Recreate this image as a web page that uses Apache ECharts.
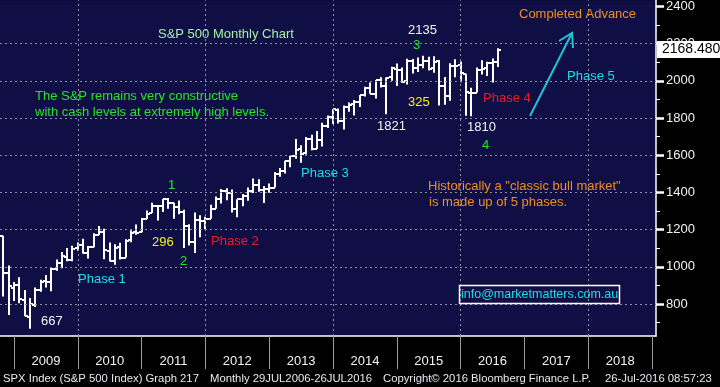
<!DOCTYPE html>
<html>
<head>
<meta charset="utf-8">
<script src="https://cdn.jsdelivr.net/npm/echarts@6/dist/echarts.min.js"></script>
<style>
html,body{margin:0;padding:0;background:#000;}
#c{width:720px;height:387px;}
</style>
</head>
<body>
<div id="c"></div>
<script>
// ---- data (monthly OHLC, S&P 500) ----
const months = ['2008-09','2008-10','2008-11','2008-12',
'2009-01','2009-02','2009-03','2009-04','2009-05','2009-06','2009-07','2009-08','2009-09','2009-10','2009-11','2009-12',
'2010-01','2010-02','2010-03','2010-04','2010-05','2010-06','2010-07','2010-08','2010-09','2010-10','2010-11','2010-12',
'2011-01','2011-02','2011-03','2011-04','2011-05','2011-06','2011-07','2011-08','2011-09','2011-10','2011-11','2011-12',
'2012-01','2012-02','2012-03','2012-04','2012-05','2012-06','2012-07','2012-08','2012-09','2012-10','2012-11','2012-12',
'2013-01','2013-02','2013-03','2013-04','2013-05','2013-06','2013-07','2013-08','2013-09','2013-10','2013-11','2013-12',
'2014-01','2014-02','2014-03','2014-04','2014-05','2014-06','2014-07','2014-08','2014-09','2014-10','2014-11','2014-12',
'2015-01','2015-02','2015-03','2015-04','2015-05','2015-06','2015-07','2015-08','2015-09','2015-10','2015-11','2015-12',
'2016-01','2016-02','2016-03','2016-04','2016-05','2016-06','2016-07'];
const opens = [1287.8,1164.2,968.7,888.6,
903.0,823.1,729.6,793.6,872.7,923.3,920.8,990.2,1019.5,1054.9,1036.2,1098.9,
1116.6,1073.9,1105.4,1171.2,1188.6,1087.3,1031.1,1107.5,1049.7,1143.5,1185.7,1186.6,
1257.6,1289.1,1328.6,1329.5,1365.2,1345.2,1320.6,1292.6,1219.1,1131.2,1251.0,1246.9,
1258.9,1312.5,1365.9,1408.5,1397.9,1309.9,1362.3,1379.3,1406.5,1440.9,1412.2,1416.2,
1426.2,1498.1,1514.7,1569.2,1597.6,1631.7,1609.8,1689.4,1636.0,1682.4,1758.7,1806.6,
1845.9,1782.7,1857.7,1874.0,1884.4,1923.9,1962.3,1929.8,2004.1,1971.4,2018.2,2065.8,
2058.9,1996.7,2105.2,2067.6,2087.4,2108.6,2067.0,2104.5,1970.1,1919.7,2080.8,2082.9,
2038.2,1936.9,1937.1,2056.6,2067.2,2093.9,2099.3];
const highs = [1303.0,1167.0,1007.5,918.9,
943.9,875.0,833.0,888.7,930.2,956.2,996.7,1039.5,1080.2,1101.4,1113.7,1130.4,
1150.5,1112.4,1180.7,1219.8,1205.1,1131.2,1121.0,1129.2,1148.7,1196.1,1227.1,1262.6,
1302.7,1344.1,1332.3,1364.6,1370.6,1345.2,1356.5,1307.4,1229.3,1292.7,1277.6,1269.4,
1333.5,1378.0,1419.2,1422.4,1415.3,1363.5,1391.7,1426.7,1474.5,1471.0,1434.3,1448.0,
1509.9,1530.9,1570.3,1597.6,1687.2,1654.2,1698.8,1709.7,1729.9,1775.2,1813.6,1849.4,
1850.8,1867.9,1884.0,1897.3,1924.0,1968.2,1991.4,2005.0,2019.3,2018.2,2075.8,2093.6,
2072.4,2119.6,2117.5,2125.9,2134.7,2129.9,2132.8,2112.7,2020.9,2094.3,2116.5,2104.3,
2038.2,1963.0,2072.2,2111.1,2103.5,2120.6,2175.6];
const lows = [1133.5,839.8,741.0,815.7,
804.3,734.5,666.8,783.3,866.1,888.9,869.3,978.5,992.0,1029.4,1029.4,1085.9,
1071.6,1044.5,1105.4,1170.7,1040.8,1028.3,1010.9,1039.7,1049.7,1131.9,1173.0,1186.6,
1257.6,1289.1,1249.1,1294.7,1311.8,1258.1,1282.9,1101.5,1114.2,1074.8,1158.7,1202.4,
1258.9,1312.5,1340.0,1357.4,1292.0,1266.7,1325.4,1354.7,1396.6,1403.3,1343.4,1398.1,
1426.2,1485.0,1501.5,1536.0,1581.3,1560.3,1604.6,1627.5,1633.4,1646.5,1746.2,1768.0,
1770.5,1737.9,1834.4,1814.4,1859.8,1916.0,1930.7,1904.8,1964.0,1820.7,2001.0,1972.6,
1988.1,1980.9,2039.7,2048.4,2067.9,2056.3,2044.0,1867.0,1871.9,1893.7,2019.4,1993.3,
1812.3,1810.1,1937.1,2033.8,2025.9,1991.7,2074.0];
const closes = [1166.4,968.8,896.2,903.3,
825.9,735.1,797.9,872.8,919.1,919.3,987.5,1020.6,1057.1,1036.2,1095.6,1115.1,
1073.9,1104.5,1169.4,1186.7,1089.4,1030.7,1101.6,1049.3,1141.2,1183.3,1180.6,1257.6,
1286.1,1327.2,1325.8,1363.6,1345.2,1320.6,1292.3,1218.9,1131.4,1253.3,1247.0,1257.6,
1312.4,1365.7,1408.5,1397.9,1310.3,1362.2,1379.3,1406.6,1440.7,1412.2,1416.2,1426.2,
1498.1,1514.7,1569.2,1597.6,1630.7,1606.3,1685.7,1633.0,1681.6,1756.5,1805.8,1848.4,
1782.6,1859.5,1872.3,1884.0,1923.6,1960.2,1930.7,2003.4,1972.3,2018.1,2067.6,2058.9,
1995.0,2104.5,2067.9,2085.5,2107.4,2063.1,2103.8,1972.2,1920.0,2079.4,2080.4,2043.9,
1940.2,1932.2,2059.7,2065.3,2097.0,2098.9,2168.48];
const years = ['2009','2010','2011','2012','2013','2014','2015','2016','2017','2018'];
const yTickLabels = [800,1000,1200,1400,1600,1800,2000,2200,2400];
const yMinorTicks = [700,900,1100,1300,1500,1700,1900,2100,2300];
const hGridValues = [800,1000,1200,1400,1600,1800,2000,2200];
const vGridYears = ['2010','2012','2014','2016','2018'];
const lastClose = 2168.48;

// month index: 0 = start of Jan 2009; a monthly bar sits at the end of its month
const monthEnd = m => { const p = m.split('-').map(Number); return (p[0]-2009)*12 + p[1]; };
const yearStart = y => (Number(y)-2009)*12;
const rows = months.map((m,i)=>[monthEnd(m), opens[i], highs[i], lows[i], closes[i]]);
const yearBounds = years.map(yearStart).concat([yearStart(years[years.length-1])+12]);
const yearMids = years.map(y=>yearStart(y)+6);

const FONT = '"Liberation Sans", Arial, sans-serif';
const chart = echarts.init(document.getElementById('c'), null, {renderer:'canvas'});

function txt(text, x, y, color, size){
  return {type:'text', z:100, style:{text:text, x:x, y:y, fill:color,
    font: (size||13)+'px '+FONT, align:'left', verticalAlign:'middle',
    textAlign:'left', textVerticalAlign:'middle'}};
}
const C_GREEN='#26e426', C_YEL='#f2ef22', C_CYAN='#1fdde6', C_RED='#ee1c24', C_ORG='#f0901e', C_WHITE='#f4f4f4';
const annotations = [
  txt('S&P 500 Monthly Chart',158,34,'#a6eea6'),
  txt('The S&P remains very constructive',35,96,C_GREEN),
  txt('with cash levels at extremely high levels.',35,112,C_GREEN),
  txt('1',168,185,C_GREEN),
  txt('296',152,242,C_YEL),
  txt('2',180,261,C_GREEN),
  txt('Phase 1',78,279,C_CYAN),
  txt('667',41,321,C_WHITE),
  txt('Phase 2',211,241,C_RED),
  txt('Phase 3',301,173,C_CYAN),
  txt('1821',377,126,C_WHITE),
  txt('325',408,102,C_YEL),
  txt('2135',408,30,C_WHITE),
  txt('3',413,45,C_GREEN),
  txt('1810',467,127,C_WHITE),
  txt('4',482,145,C_GREEN),
  txt('Phase 4',483,98,C_RED),
  txt('Phase 5',567,76,C_CYAN),
  txt('Completed Advance',519,14,C_ORG),
  txt('Historically a "classic bull market"',428,186,C_ORG),
  txt('is made up of 5 phases.',429,202,C_ORG),
  {type:'rect', z:100, shape:{x:459.5,y:285.5,width:160,height:18}, style:{fill:'none', stroke:'#ffffff', lineWidth:1.5}},
  txt('info@marketmatters.com.au',461,294.5,C_CYAN,12.5),
  {type:'line', z:100, shape:{x1:530,y1:116,x2:572,y2:33}, style:{stroke:'#22c4d2', lineWidth:2}},
  {type:'polyline', z:100, shape:{points:[[559,41],[572,33],[573,48]]}, style:{stroke:'#22c4d2', lineWidth:2, fill:'none'}},
  txt('SPX Index (S&P 500 Index) Graph 217',3,379,'#e8e8f0',11.3),
  txt('Monthly 29JUL2006-26JUL2016',210,379,'#e8e8f0',11.3),
  txt('Copyright\u00a9 2016 Bloomberg Finance L.P.',383,379,'#e8e8f0',11.3),
  txt('26-Jul-2016 08:57:23',605,379,'#e8e8f0',11.3)
];

const yMin = 628, yMax = 2434;
const gridLineData = hGridValues.map(v=>({yAxis:v})).concat(vGridYears.map(y=>({xAxis:yearStart(y)})));

const option = {
  backgroundColor:'#000000',
  animation:false,
  grid:{left:0, right:64, top:0, bottom:51, show:true, backgroundColor:'#100f45', borderWidth:0},
  xAxis:{type:'value', min:-2.633, max:120.74,
    axisLine:{show:true, onZero:false, lineStyle:{color:'#ffffff', width:1.5}},
    axisTick:{show:true, customValues:yearBounds, length:33, lineStyle:{color:'#9c9c9c', width:1}},
    axisLabel:{show:true, customValues:yearMids, margin:19, color:'#f2f2f2', fontSize:13, fontFamily:FONT,
      formatter: v => years[Math.round((v-6)/12)] || ''},
    splitLine:{show:false}},
  yAxis:[
    {type:'value', position:'right', min:yMin, max:yMax,
      axisLine:{show:true, onZero:false, lineStyle:{color:'#ffffff', width:1.5}},
      axisTick:{show:true, customValues:yTickLabels, length:8, lineStyle:{color:'#ffffff', width:2.5}},
      axisLabel:{show:true, customValues:yTickLabels, margin:10, color:'#f2f2f2', fontSize:13, fontFamily:FONT,
        formatter: v => String(v)},
      splitLine:{show:false}},
    {type:'value', position:'right', min:yMin, max:yMax,
      axisLine:{show:false, onZero:false},
      axisTick:{show:true, customValues:yMinorTicks, length:4, lineStyle:{color:'#ffffff', width:1}},
      axisLabel:{show:false}, splitLine:{show:false}}
  ],
  series:[
    {type:'line', data:rows.map(r=>[r[0], r[4]]), showSymbol:false, silent:true,
      lineStyle:{width:0, opacity:0}, z:1,
      markLine:{silent:true, symbol:['none','none'], animation:false,
        label:{show:false},
        lineStyle:{type:[2,3], color:'#8e8e9e', width:1},
        data: gridLineData}},
    {type:'custom', data:rows, clip:true, z:3,
      encode:{x:0, y:[1,2,3,4]},
      renderItem:(params, api)=>{
        const x = api.value(0);
        const o = api.coord([x, api.value(1)]);
        const h = api.coord([x, api.value(2)]);
        const l = api.coord([x, api.value(3)]);
        const c = api.coord([x, api.value(4)]);
        const px = Math.round(h[0]);
        const st = {stroke:'#ffffff', lineWidth:2};
        const w = 3;
        return {type:'group', children:[
          {type:'line', shape:{x1:px, y1:h[1], x2:px, y2:l[1]}, style:st},
          {type:'line', shape:{x1:px-w, y1:Math.round(o[1]), x2:px, y2:Math.round(o[1])}, style:st},
          {type:'line', shape:{x1:px, y1:Math.round(c[1]), x2:px+w, y2:Math.round(c[1])}, style:st}
        ]};
      }},
    {type:'line', data:[[rows[rows.length-1][0], lastClose]], showSymbol:false, silent:true,
      lineStyle:{width:0, color:'rgba(0,0,0,0)'}, z:6,
      markLine:{silent:true, symbol:['none','none'], animation:false,
        lineStyle:{color:'rgba(0,0,0,0)', width:0, type:'solid'},
        label:{show:true, position:'end', distance:1, formatter: lastClose.toFixed(3),
          backgroundColor:'#ffffff', color:'#000000', fontSize:14, fontFamily:FONT, padding:[2,2,1,5]},
        data:[{yAxis:lastClose}]}}
  ],
  graphic: annotations
};
chart.setOption(option);
</script>
</body>
</html>
